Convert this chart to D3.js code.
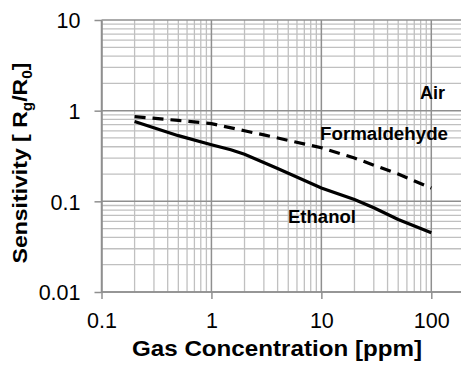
<!DOCTYPE html>
<meta charset="utf-8">
<title>Gas Sensitivity</title>
<script src="https://d3js.org/d3.v7.min.js"></script>
<style>
  body { margin: 0; background: #fff; }
  text { font-family: "Liberation Sans", Arial, sans-serif; }
</style>
<body>
<script>

// data
var xMajor = [0.1, 1, 10, 100]
var yMajor = [0.01, 0.1, 1, 10]
var xTickLabels = ["0.1", "1", "10", "100"]
var yTickLabels = ["0.01", "0.1", "1", "10"]

var formConc = [0.2, 0.5, 1, 2, 3, 5, 10, 20, 50, 100]
var formSens = [0.86, 0.78, 0.72, 0.6, 0.54, 0.47, 0.39, 0.30, 0.2, 0.14]

var ethConc = [0.2, 0.5, 1, 1.5, 2, 4, 10, 20, 30, 50, 100]
var ethSens = [0.76, 0.53, 0.42, 0.37, 0.33, 0.23, 0.14, 0.105, 0.085, 0.063, 0.045]

var w = 461
var h = 365

var svg = d3.select("body")
  .append("svg")
  .attr("width", w)
  .attr("height", h);

var x = d3.scaleLog().domain([0.1, 100]).range([101.5, 431.3]);
var y = d3.scaleLog().domain([0.01, 10]).range([292, 20]);

var xRight = w; // plot runs off the right edge

// minor grid values
var xMinor = [], yMinor = [];
[0.1, 1, 10, 100].forEach(function(d) {
  for (var k = 2; k <= 9; k++) { if (d * k <= 180) xMinor.push(d * k); }
});
[0.01, 0.1, 1].forEach(function(d) {
  for (var k = 2; k <= 9; k++) yMinor.push(d * k);
});

// squeeze/stretch a plain text to a given width
function fitWidth(sel, width) {
  sel.attr("textLength", width).attr("lengthAdjust", "spacingAndGlyphs");
}

var grid = svg.append("g");

grid.selectAll(".vmin").data(xMinor).enter().append("line")
  .attr("x1", function(d){ return x(d) }).attr("x2", function(d){ return x(d) })
  .attr("y1", y(10)).attr("y2", y(0.01))
  .attr("stroke", "#c0c0c0").attr("stroke-width", 1.3);

grid.selectAll(".hmin").data(yMinor).enter().append("line")
  .attr("x1", x(0.1)).attr("x2", xRight)
  .attr("y1", function(d){ return y(d) }).attr("y2", function(d){ return y(d) })
  .attr("stroke", "#c0c0c0").attr("stroke-width", 1.3);

grid.selectAll(".vmaj").data(xMajor).enter().append("line")
  .attr("x1", function(d){ return x(d) }).attr("x2", function(d){ return x(d) })
  .attr("y1", y(10)).attr("y2", y(0.01))
  .attr("stroke", "#8f8f8f").attr("stroke-width", 1.5);

grid.selectAll(".hmaj").data(yMajor).enter().append("line")
  .attr("x1", x(0.1)).attr("x2", xRight)
  .attr("y1", function(d){ return y(d) }).attr("y2", function(d){ return y(d) })
  .attr("stroke", "#8f8f8f").attr("stroke-width", 1.5);

// axes
var xAxis = svg.append("g")
  .attr("transform", "translate(0," + y(0.01) + ")")
  .call(d3.axisBottom(x).tickValues(xMajor).tickSize(7).tickSizeOuter(0)
    .tickFormat(function(d, i){ return xTickLabels[i] }));
var yAxis = svg.append("g")
  .attr("transform", "translate(" + x(0.1) + ",0)")
  .call(d3.axisLeft(y).tickValues(yMajor).tickSize(7).tickSizeOuter(0)
    .tickFormat(function(d, i){ return yTickLabels[i] }));

xAxis.select(".domain").attr("d", "M" + x(0.1) + ",0H" + xRight);
[xAxis, yAxis].forEach(function(a) {
  a.selectAll(".domain, line").attr("stroke", "#8f8f8f").attr("stroke-width", 1.5);
  a.selectAll("text").attr("fill", "#000").style("font-size", "21.5px")
    .style("font-family", "'Liberation Sans', Arial, sans-serif");
});
xAxis.selectAll("text").attr("dy", null).attr("y", 36);
yAxis.selectAll("text").attr("x", -21).attr("dy", "0.36em");

// lines
var line = d3.line()
  .x(function(d){ return x(d[0]) })
  .y(function(d){ return y(d[1]) });

svg.append("path")
  .datum(d3.zip(formConc, formSens))
  .attr("d", line)
  .attr("fill", "none").attr("stroke", "#000").attr("stroke-width", 3.2)
  .attr("stroke-dasharray", "11,7");

svg.append("path")
  .datum(d3.zip(ethConc, ethSens))
  .attr("d", line)
  .attr("fill", "none").attr("stroke", "#000").attr("stroke-width", 3.2);

// series labels
var lab = svg.append("g").style("font-weight", "bold").style("font-size", "17.5px");
lab.append("text").attr("x", 420).attr("y", 99).text("Air").call(fitWidth, 25);
lab.append("text").attr("x", 320).attr("y", 140).text("Formaldehyde").call(fitWidth, 128);
lab.append("text").attr("x", 288).attr("y", 223).text("Ethanol").call(fitWidth, 68);

// axis titles
svg.append("text")
  .attr("x", 132).attr("y", 356)
  .style("font-weight", "bold").style("font-size", "22px")
  .text("Gas Concentration [ppm]")
  .call(fitWidth, 290);

var yt = svg.append("text")
  .attr("text-anchor", "middle")
  .style("font-weight", "bold").style("font-size", "21px");
yt.append("tspan").text("Sensitivity [ R");
yt.append("tspan").attr("dy", 5).style("font-size", "14px").text("g");
yt.append("tspan").attr("dy", -5).text("/R");
yt.append("tspan").attr("dy", 5).style("font-size", "14px").text("0");
yt.append("tspan").attr("dy", -5).text("]");
var ytw = yt.node().getComputedTextLength();
yt.attr("transform", "translate(27,163) rotate(-90) scale(" + (201 / ytw) + ",1)");

</script>
</body>
